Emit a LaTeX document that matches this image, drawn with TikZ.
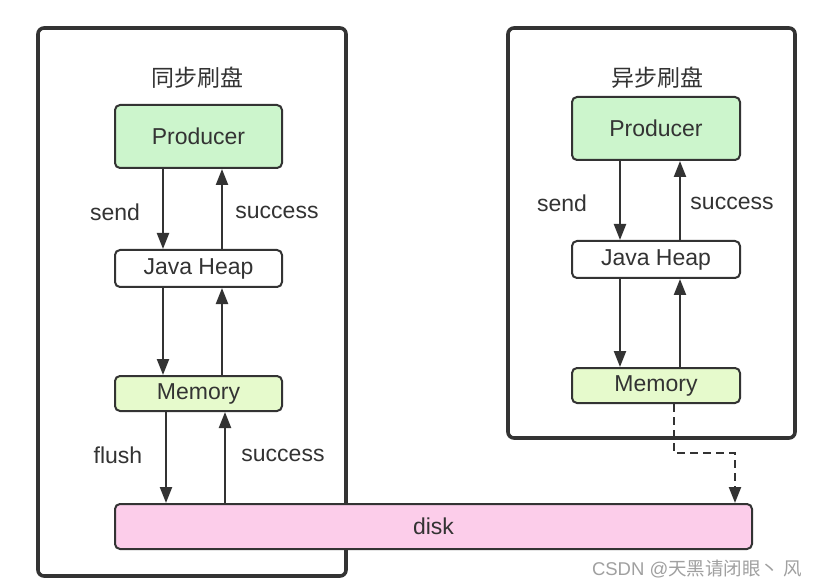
\documentclass[tikz,border=0pt]{standalone}
\usepackage{fontspec}
\setmainfont{Liberation Sans}
\newfontfamily\cjk{Noto Sans CJK SC}
\usetikzlibrary{arrows.meta}
\definecolor{ink}{HTML}{333333}
\definecolor{prodgreen}{HTML}{CCF5CC}
\definecolor{memgreen}{HTML}{E6FACC}
\definecolor{diskpink}{HTML}{FCCDEA}
\definecolor{wm}{HTML}{A0A0A0}
\tikzset{
  x=1pt, y=-1pt,
  outerbox/.style={draw=ink, line width=3.6pt, rounded corners=6pt, fill=none},
  inbox/.style={draw=ink, line width=2pt, rounded corners=5pt, text=ink, font=\fontsize{23}{26}\selectfont, inner sep=0pt},
  lbl/.style={text=ink, font=\fontsize{23}{26}\selectfont, inner sep=0pt},
  ttl/.style={text=ink, font=\cjk\fontsize{23}{26}\selectfont, inner sep=0pt},
  arr/.style={draw=ink, line width=2.2pt, -{Triangle[length=16pt,width=12pt]}},
  dasharr/.style={draw=ink, line width=2.2pt, dash pattern=on 8pt off 5pt, -{Triangle[length=16pt,width=12pt]}},
}
\begin{document}
\begin{tikzpicture}
\useasboundingbox[fill=white] (0,0) rectangle (817,588);
% outer boxes
\node[outerbox, minimum width=308pt, minimum height=548pt] (outerL) at (192,302) {};
\node[outerbox, minimum width=287pt, minimum height=410pt] (outerR) at (651.5,233) {};
% titles
\node[ttl] (tL) at (197,78) {同步刷盘};
\node[ttl] (tR) at (657,78) {异步刷盘};
% left column
\node[inbox, fill=prodgreen, minimum width=167pt, minimum height=63pt] (pl) at (198.5,136.5) {Producer};
\node[inbox, fill=white, minimum width=167pt, minimum height=37pt] (jl) at (198.5,268.5) {Java Heap};
\node[inbox, fill=memgreen, minimum width=167pt, minimum height=35pt] (ml) at (198.5,393.5) {Memory};
% right column
\node[inbox, fill=prodgreen, minimum width=168pt, minimum height=63pt] (pr) at (656,128.5) {Producer};
\node[inbox, fill=white, minimum width=168pt, minimum height=37pt] (jr) at (656,259.5) {Java Heap};
\node[inbox, fill=memgreen, minimum width=168pt, minimum height=35pt] (mr) at (656,385.5) {Memory};
% left arrows
\draw[arr] ([xshift=-35.5pt]pl.south) -- ([xshift=-35.5pt]jl.north);
\draw[arr] ([xshift=23.5pt]jl.north) -- ([xshift=23.5pt]pl.south);
\draw[arr] ([xshift=-35.5pt]jl.south) -- ([xshift=-35.5pt]ml.north);
\draw[arr] ([xshift=23.5pt]ml.north) -- ([xshift=23.5pt]jl.south);
% right arrows
\draw[arr] ([xshift=-36pt]pr.south) -- ([xshift=-36pt]jr.north);
\draw[arr] ([xshift=24pt]jr.north) -- ([xshift=24pt]pr.south);
\draw[arr] ([xshift=-36pt]jr.south) -- ([xshift=-36pt]mr.north);
\draw[arr] ([xshift=24pt]mr.north) -- ([xshift=24pt]jr.south);
% labels
\node[lbl] (sendL) at (115,212) {send};
\node[lbl] (succL) at (277,212) {success};
\node[lbl] (sendR) at (562,203) {send};
\node[lbl] (succR) at (732,203) {success};
\node[lbl] (flush) at (118,455) {flush};
\node[lbl] (succD) at (283,455) {success};
% disk
\node[inbox, fill=diskpink, minimum width=637pt, minimum height=45pt] (disk) at (433.5,526.5) {disk};
% memory-disk arrows
\draw[arr] ([xshift=-32.5pt]ml.south) -- ([xshift=-32.5pt]ml.south |- disk.north);
\draw[arr] ([xshift=26.5pt]ml.south |- disk.north) -- ([xshift=26.5pt]ml.south);
% async dashed flush
\coordinate (bend) at (735,453);
\draw[dasharr] ([xshift=18pt]mr.south) |- (bend) -- (bend |- disk.north);
% watermark
\node[text=wm, font=\fontsize{18.5}{22}\selectfont, inner sep=0pt] (wmk) at (697,569) {CSDN @{\cjk 天黑请闭眼丶 风}};
\end{tikzpicture}
\end{document}
